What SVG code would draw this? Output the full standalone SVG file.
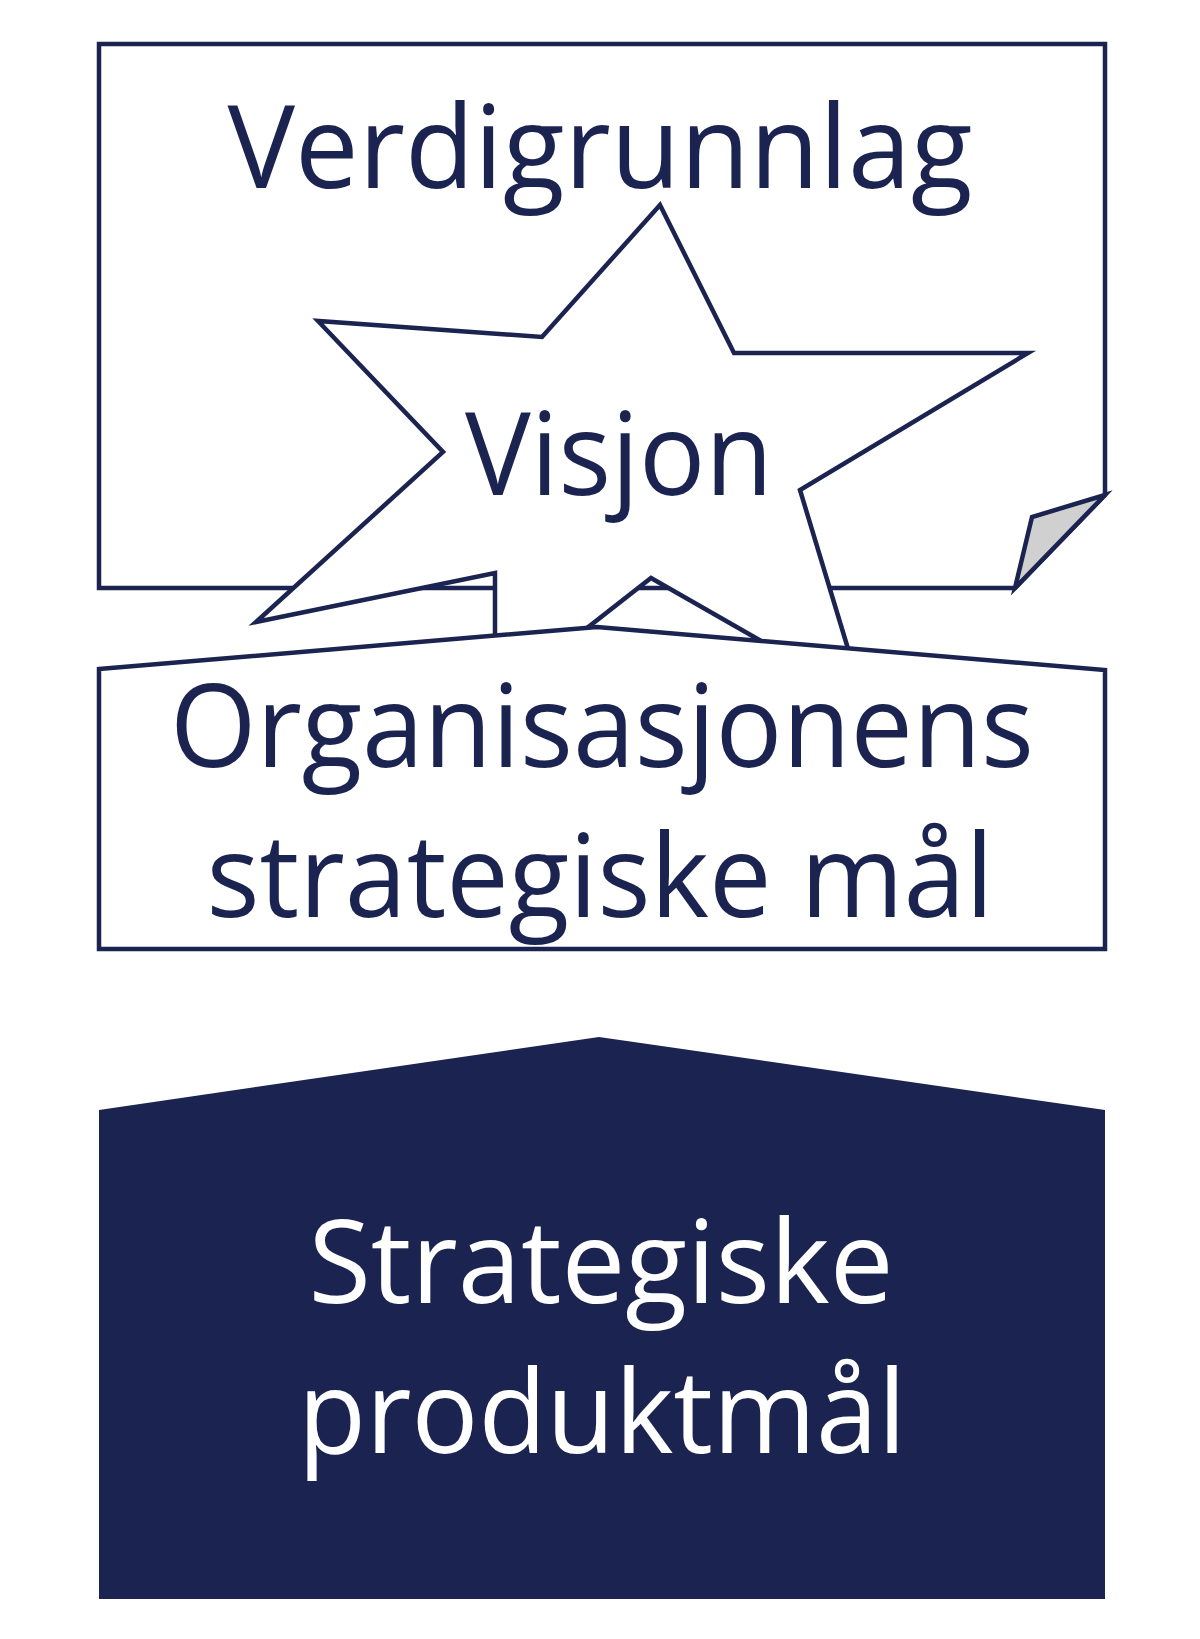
<svg xmlns="http://www.w3.org/2000/svg" width="1200" height="1639" viewBox="0 0 1200 1639">
  <style>
    .outline { fill: #ffffff; stroke: #1b2350; stroke-width: 4.5; stroke-linejoin: miter; }
    .fold { fill: #d0d0d0; stroke: #1b2350; stroke-width: 4.5; stroke-linejoin: miter; }
    .solid { fill: #1b2350; stroke: none; }
    .lbl { font-family: "Open Sans", "Noto Sans", "DejaVu Sans", sans-serif; font-size: 116px; text-anchor: middle; }
    .dark { fill: #1b2350; }
    .light { fill: #ffffff; }
  </style>
  <rect x="0" y="0" width="1200" height="1639" fill="#ffffff"/>

  <g id="node-verdigrunnlag">
    <path class="outline" d="M99,44 H1105 V495 L1015,588 H99 Z"/>
    <polygon class="fold" points="1105,495 1032,517 1015,588"/>
    <text class="lbl dark" x="600" y="188" textLength="745" lengthAdjust="spacingAndGlyphs">Verdigrunnlag</text>
  </g>

  <g id="node-visjon">
    <polygon class="outline" points="660,205 734,353 1028,353 800,490 849,652 819,674 651,578 555,653 495,660 495,573 256,622 443,452 318,321 542,337"/>
    <text class="lbl dark" x="619" y="495" textLength="308" lengthAdjust="spacingAndGlyphs">Visjon</text>
  </g>

  <g id="node-organisasjonens-mal">
    <polygon class="outline" points="99,669 597,627 1105,670 1105,949 99,949"/>
    <text class="lbl dark" x="602" y="767" textLength="864" lengthAdjust="spacingAndGlyphs">Organisasjonens</text>
    <text class="lbl dark" x="600" y="917" textLength="787" lengthAdjust="spacingAndGlyphs">strategiske mål</text>
  </g>

  <g id="node-produktmal">
    <polygon class="solid" points="99,1110 599,1037 1105,1110 1105,1599 99,1599"/>
    <text class="lbl light" x="601" y="1303" textLength="585" lengthAdjust="spacingAndGlyphs">Strategiske</text>
    <text class="lbl light" x="602" y="1453" textLength="608" lengthAdjust="spacingAndGlyphs">produktmål</text>
  </g>
</svg>
